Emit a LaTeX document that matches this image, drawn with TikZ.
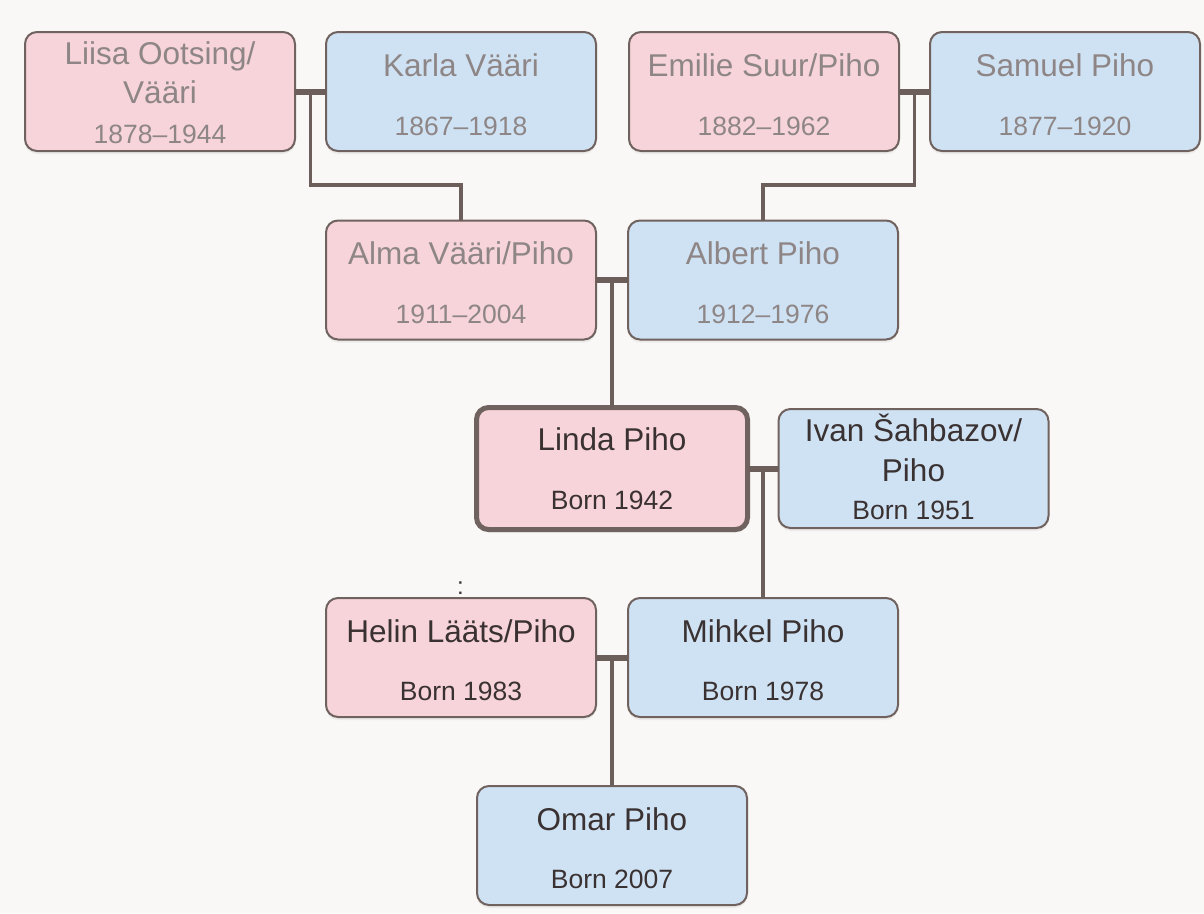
\documentclass[tikz,border=0pt]{standalone}
\usepackage{fontspec}
\setmainfont{Liberation Sans}
\usetikzlibrary{shadows,calc}
\definecolor{pinkf}{RGB}{247,212,218}
\definecolor{bluef}{RGB}{207,226,243}
\definecolor{edge}{RGB}{112,98,94}
\definecolor{conn}{RGB}{108,94,90}
\definecolor{oldtext}{RGB}{142,134,134}
\definecolor{newtext}{RGB}{58,50,50}
\definecolor{bg}{RGB}{249,248,246}
\begin{document}
\begin{tikzpicture}[x=1pt,y=-1pt,
  box/.style={draw=edge, line width=2pt, rounded corners=12pt,
    minimum width=270pt, minimum height=119pt, inner sep=0pt, outer sep=0pt,
    drop shadow={opacity=0.10,shadow xshift=0pt,shadow yshift=-3pt}},
  her/.style={box, fill=pinkf},
  him/.style={box, fill=bluef},
  nm/.style={anchor=base, font=\fontsize{31.5}{37}\selectfont, inner sep=0pt},
  yr/.style={anchor=base, font=\fontsize{26.5}{31}\selectfont, inner sep=0pt},
  old/.style={text=oldtext},
  new/.style={text=newtext},
  bar/.style={draw=conn, line width=6pt},
  desc/.style={draw=conn, line width=3.5pt},
]
\useasboundingbox[fill=bg] (0,0) rectangle (1204,913);

% generation 1
\node[her] (liisa)  at (160,91.5) {};
\node[him] (karla)  at (461,91.5) {};
\node[her] (emilie) at (764,91.5) {};
\node[him] (samuel) at (1065,91.5) {};
% generation 2
\node[her] (alma)   at (461,280) {};
\node[him] (albert) at (763,280) {};
% generation 3
\node[her, line width=5pt, minimum width=271pt, minimum height=122pt] (linda) at (612,468.5) {};
\node[him] (ivan)   at (913.5,468.5) {};
% generation 4
\node[her] (helin)  at (461,657.5) {};
\node[him] (mihkel) at (763,657.5) {};
% generation 5
\node[him] (omar)   at (612,845.5) {};

% texts
\node[nm,old] (liisaA) at ($(liisa.north)+(0,32)$) {Liisa Ootsing/};
\node[nm,old] (liisaB) at ($(liisa.north)+(0,71)$) {Vääri};
\node[yr,old] (liisaY) at ($(liisa.north)+(0,111)$) {1878–1944};

\node[nm,old] (karlaA) at ($(karla.north)+(0,44)$) {Karla Vääri};
\node[yr,old] (karlaY) at ($(karla.north)+(0,103)$) {1867–1918};

\node[nm,old] (emilieA) at ($(emilie.north)+(0,44)$) {Emilie Suur/Piho};
\node[yr,old] (emilieY) at ($(emilie.north)+(0,103)$) {1882–1962};

\node[nm,old] (samuelA) at ($(samuel.north)+(0,44)$) {Samuel Piho};
\node[yr,old] (samuelY) at ($(samuel.north)+(0,103)$) {1877–1920};

\node[nm,old] (almaA) at ($(alma.north)+(0,44)$) {Alma Vääri/Piho};
\node[yr,old] (almaY) at ($(alma.north)+(0,103)$) {1911–2004};

\node[nm,old] (albertA) at ($(albert.north)+(0,44)$) {Albert Piho};
\node[yr,old] (albertY) at ($(albert.north)+(0,103)$) {1912–1976};

\node[nm,new] (lindaA) at ($(linda.north)+(0,43)$) {Linda Piho};
\node[yr,new] (lindaY) at ($(linda.north)+(0,102)$) {Born 1942};

\node[nm,new] (ivanA) at ($(ivan.north)+(0,32)$) {Ivan Šahbazov/};
\node[nm,new] (ivanB) at ($(ivan.north)+(0,72)$) {Piho};
\node[yr,new] (ivanY) at ($(ivan.north)+(0,110)$) {Born 1951};

\node[nm,new] (helinA) at ($(helin.north)+(0,44)$) {Helin Lääts/Piho};
\node[yr,new] (helinY) at ($(helin.north)+(0,102)$) {Born 1983};

\node[nm,new] (mihkelA) at ($(mihkel.north)+(0,44)$) {Mihkel Piho};
\node[yr,new] (mihkelY) at ($(mihkel.north)+(0,102)$) {Born 1978};

\node[nm,new] (omarA) at ($(omar.north)+(0,44)$) {Omar Piho};
\node[yr,new] (omarY) at ($(omar.north)+(0,102)$) {Born 2007};

\node[anchor=base, text=newtext, font=\fontsize{24}{28}\selectfont, inner sep=0pt] (colon) at (460.5,594) {:};

% connectors
\draw[bar] (liisa.east) -- (karla.west);
\coordinate (m1) at ($(liisa.east)!0.5!(karla.west)$);
\draw[desc] (m1) -- ++(0,93.5) -| (alma.north);

\draw[bar] (emilie.east) -- (samuel.west);
\coordinate (m2) at ($(emilie.east)!0.5!(samuel.west)$);
\draw[desc] (m2) -- ++(0,93.5) -| (albert.north);

\draw[bar] (alma.east) -- (albert.west);
\coordinate (m3) at ($(alma.east)!0.5!(albert.west)$);
\draw[desc] (m3) -- (m3 |- linda.north);

\draw[bar] (linda.east) -- (ivan.west);
\coordinate (m4) at ($(linda.east)!0.5!(ivan.west)$);
\draw[desc] (m4) -- (m4 |- mihkel.north);

\draw[bar] (helin.east) -- (mihkel.west);
\coordinate (m5) at ($(helin.east)!0.5!(mihkel.west)$);
\draw[desc] (m5) -- (m5 |- omar.north);
\end{tikzpicture}
\end{document}
